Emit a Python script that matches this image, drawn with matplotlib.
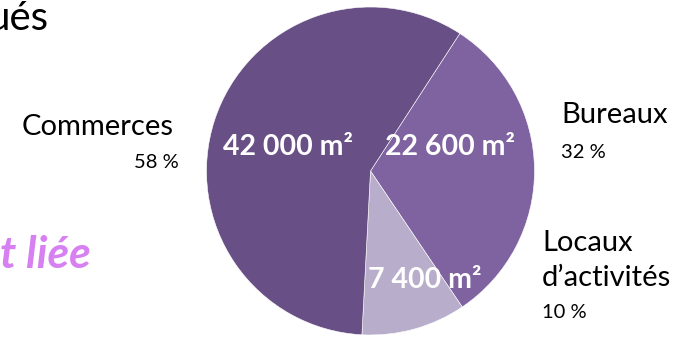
import matplotlib.pyplot as plt

plt.rcParams["font.family"] = ["Lato", "DejaVu Sans"]

# slice data, in drawing order (clockwise from the top right)
categories = ["Bureaux", "Locaux d'activités", "Commerces"]
surfaces = [22600, 7400, 42000]
surface_labels = ["22 600 m²", "7 400 m²", "42 000 m²"]
percent_labels = ["32 %", "10 %", "58 %"]
colors = ["#7f63a0", "#b8adca", "#684f85"]

W, H = 684, 337
fig = plt.figure(figsize=(W / 100, H / 100), dpi=100)
ax = fig.add_axes([0, 0, 1, 1])

# pie in pixel coordinates (y measured from bottom)
cx, cy, r = 370.5, H - 171, 164
wedges, _ = ax.pie(
    surfaces,
    colors=colors,
    startangle=57,
    counterclock=False,
    center=(cx, cy),
    radius=r,
    wedgeprops=dict(edgecolor="white", linewidth=0.4),
)
ax.set_xlim(0, W)
ax.set_ylim(0, H)
ax.set_aspect("equal")
ax.axis("off")


def y(px):
    return H - px


# values inside slices
inner_pos = [(450, 147), (425, 280), (288, 147)]
for lab, (px, py) in zip(surface_labels, inner_pos):
    ax.text(px, y(py), lab, color="white", fontsize=20.5, fontweight="bold",
            ha="center", va="center")

# category names and shares
ax.text(174, y(127), "Commerces", fontsize=21, ha="right", va="center")
ax.text(179, y(163), percent_labels[2], fontsize=14.5, ha="right", va="center")

ax.text(561, y(115), "Bureaux", fontsize=21, ha="left", va="center")
ax.text(561, y(152), percent_labels[0], fontsize=14.5, ha="left", va="center")

ax.text(542, y(243), "Locaux", fontsize=21, ha="left", va="center")
ax.text(542, y(278), "d\u2019activités", fontsize=21, ha="left", va="center")
ax.text(542, y(312), percent_labels[1], fontsize=14.5, ha="left", va="center")

# cut-off slide text
ax.text(49, y(18), "ués", fontsize=29, ha="right", va="center")
ax.text(91, y(255), "t liée", fontsize=32, fontweight="bold", fontstyle="italic",
        color="#d680f2", ha="right", va="center")

fig.savefig("out.png", dpi=100)
